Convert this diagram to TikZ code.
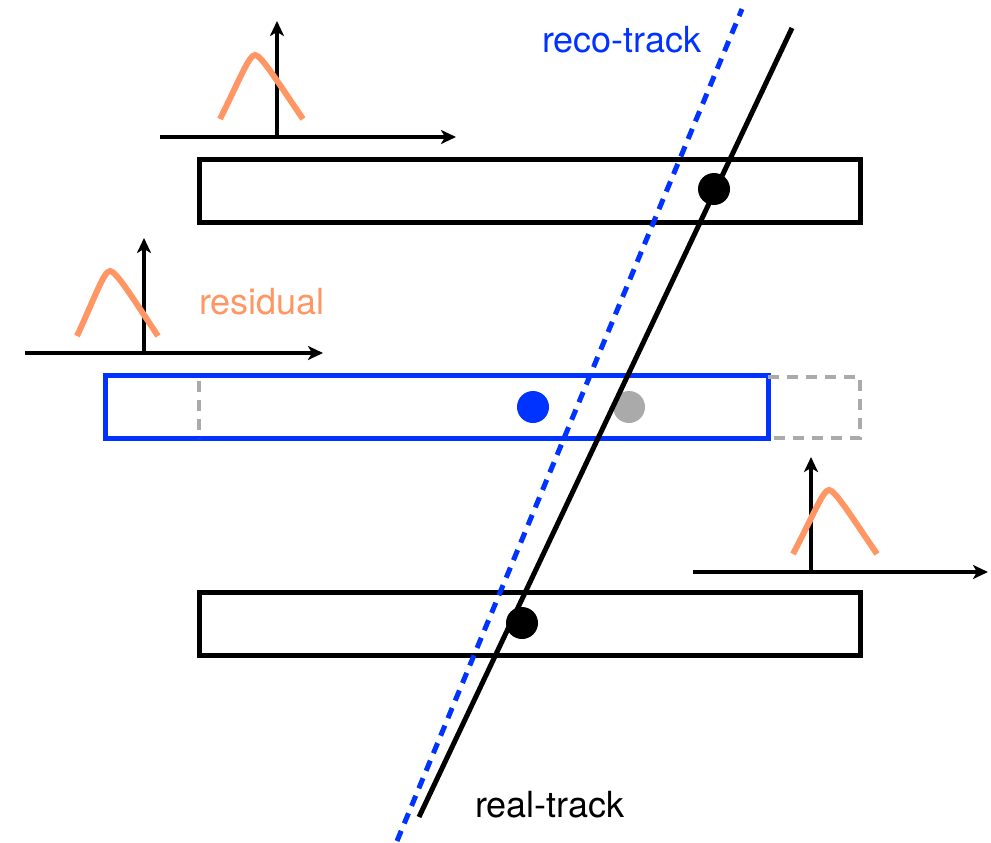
\documentclass[tikz,border=0pt]{standalone}
\usepackage{fontspec}
\setmainfont{TeX Gyre Heros}
\usetikzlibrary{arrows.meta}
\definecolor{recoblue}{RGB}{0,51,255}
\definecolor{resorange}{RGB}{255,150,100}
\definecolor{ghost}{RGB}{170,170,170}
\begin{document}
\begin{tikzpicture}[x=1pt,y=-1pt,
  layer/.style={draw=black,line width=5pt,rectangle,inner sep=0pt,minimum width=661pt,minimum height=63pt},
  hit/.style={circle,fill=black,inner sep=0pt,minimum size=32pt},
  axis/.style={line width=4.5pt,-{Stealth[length=15pt,width=14pt,inset=4pt]}},
  gauss/.style={draw=resorange,line width=6pt,line cap=butt},
  realtrk/.style={draw=black,line width=5pt},
  recotrk/.style={draw=recoblue,line width=5pt,dash pattern=on 11pt off 8pt},
  ghostline/.style={draw=ghost,line width=4pt,dash pattern=on 11pt off 8pt},
  lbl/.style={font=\fontsize{36}{40}\selectfont,inner sep=0pt,anchor=base west}]
\useasboundingbox (0,0) rectangle (991,843);

% detector layers
\node[layer] (top) at (529.5,190.5) {};
\node[layer,draw=recoblue,minimum width=663pt] (mid) at (436.5,407) {};
\node[layer] (bot) at (529.5,624) {};

% ghost (misaligned) position of middle layer
\coordinate (g1) at (768,377);
\coordinate (g2) at (860,377);
\coordinate (g3) at (860,438);
\coordinate (g4) at (768,438);
\draw[ghostline] (g1) -- (g2) -- (g3) -- (g4);
\coordinate (gl1) at (199,381);
\coordinate (gl2) at (199,438);
\draw[ghostline] (gl1) -- (gl2);

% hits
\node[hit,fill=recoblue] (bluehit) at (533,407) {};
\node[hit,fill=ghost] (grayhit) at (629,407) {};

% tracks
\coordinate (real0) at (419,817);
\coordinate (real1) at (792,28);
\coordinate (reco0) at (397,841);
\coordinate (reco1) at (742,9);
\draw[recotrk] (reco0) -- (reco1);
\draw[realtrk] (real0) -- (real1);

\node[hit] (tophit) at (714,189) {};
\node[hit] (bothit) at (522,623) {};

% residual plot A (top)
\coordinate (ax0) at (160,137);
\coordinate (ax1) at (456,137);
\coordinate (ay0) at (277,137);
\coordinate (ay1) at (277,21);
\draw[axis] (ax0) -- (ax1);
\draw[axis] (ay0) -- (ay1);
\draw[gauss] (220,119) .. controls (239,81) and (249,55) .. (255,55)
                       .. controls (261,55) and (277,81) .. (303,119);

% residual plot B (middle)
\coordinate (bx0) at (25,353);
\coordinate (bx1) at (323,353);
\coordinate (by0) at (144,353);
\coordinate (by1) at (144,238);
\draw[axis] (bx0) -- (bx1);
\draw[axis] (by0) -- (by1);
\draw[gauss] (77,336) .. controls (95,297) and (104,271) .. (110,271)
                      .. controls (116,271) and (132,297) .. (158,336);

% residual plot C (bottom)
\coordinate (cx0) at (693,572);
\coordinate (cx1) at (988,572);
\coordinate (cy0) at (811,572);
\coordinate (cy1) at (811,457);
\draw[axis] (cx0) -- (cx1);
\draw[axis] (cy0) -- (cy1);
\draw[gauss] (793,554) .. controls (813,516) and (823,490) .. (829,490)
                       .. controls (835,490) and (851,516) .. (877,554);

% labels
\node[lbl,text=resorange] (reslbl) at (199,314) {residual};
\node[lbl,text=recoblue] (recolbl) at (542,53) {reco-track};
\node[lbl,text=black] (reallbl) at (475,817) {real-track};
\end{tikzpicture}
\end{document}
